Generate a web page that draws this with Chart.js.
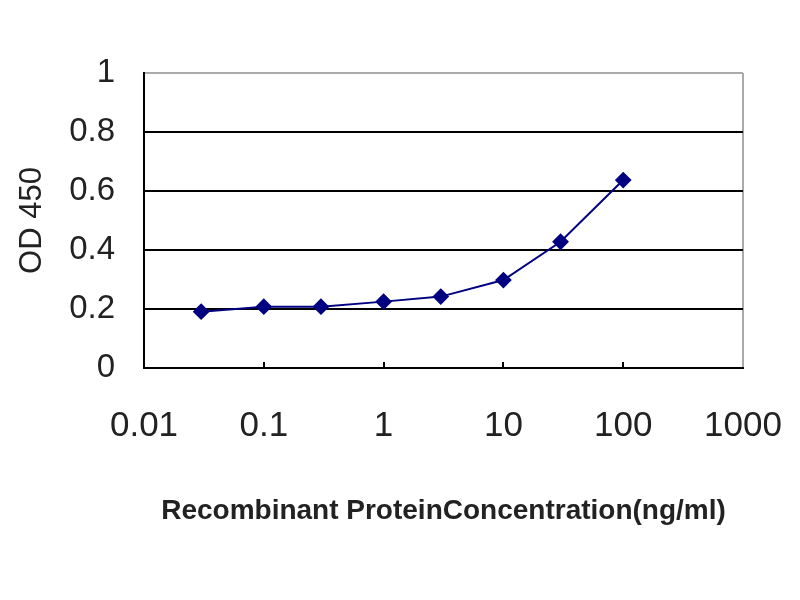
<!DOCTYPE html>
<html>
<head>
<meta charset="utf-8">
<script src="https://cdn.jsdelivr.net/npm/chart.js@4/dist/chart.umd.min.js"></script>
<style>
  html, body { margin: 0; padding: 0; background: #fff; }
  #wrap { width: 800px; height: 600px; }
</style>
</head>
<body>
<div id="wrap"><canvas id="chart-od" width="800" height="600"></canvas></div>
<script>
// Courbe ELISA : DO 450 selon la concentration

const concentrations = [0.03, 0.1, 0.3, 1, 3, 10, 30, 100];
const od450 = [0.191, 0.208, 0.208, 0.225, 0.242, 0.298, 0.428, 0.637];
const xTicks = [0.01, 0.1, 1, 10, 100, 1000];
const yTicks = [0, 0.2, 0.4, 0.6, 0.8, 1];

const navy = '#000080';

// petites graduations vers le haut sur l'axe x
const innerTicks = {
    id: 'innerTicks',
    afterDatasetsDraw(chart) {
        const ctx = chart.ctx;
        const x = chart.scales.x;
        const yBottom = chart.chartArea.bottom;
        ctx.save();
        ctx.strokeStyle = '#000';
        ctx.lineWidth = 2;
        xTicks.slice(1, -1).forEach(v => {
            const px = Math.round(x.getPixelForValue(v));
            ctx.beginPath();
            ctx.moveTo(px, yBottom);
            ctx.lineTo(px, yBottom - 6);
            ctx.stroke();
        });
        ctx.restore();
    }
};

const ctx = document.getElementById('chart-od');

new Chart(ctx, {
    type: 'line',
    data: {
        datasets: [{
            label: 'OD 450',
            data: concentrations.map((c, i) => ({ x: c, y: od450[i] })),
            borderColor: navy,
            backgroundColor: navy,
            borderWidth: 2,
            pointStyle: 'rectRot',
            pointRadius: 7,
            pointHoverRadius: 7,
            fill: false,
            tension: 0
        }]
    },
    options: {
        responsive: false,
        animation: false,
        layout: {
            padding: { left: 14, top: 73, right: 57, bottom: 72 }
        },
        scales: {
            x: {
                type: 'logarithmic',
                min: 0.01,
                max: 1000,
                afterBuildTicks: (scale) => {
                    scale.ticks = xTicks.map(v => ({ value: v }));
                },
                afterFit: (scale) => {
                    scale.height = 160;
                    scale.paddingLeft = 0;
                    scale.paddingRight = 0;
                },
                grid: {
                    drawTicks: false,
                    lineWidth: 2,
                    color: (c) => (c.tick && c.tick.value === 1000) ? '#aaaaaa' : 'rgba(0,0,0,0)'
                },
                border: { color: '#000', width: 2 },
                ticks: {
                    padding: 37,
                    color: '#222',
                    maxRotation: 0,
                    autoSkip: false,
                    font: { family: 'Liberation Sans, Arial, sans-serif', size: 35 },
                    callback: (v) => String(v)
                },
                title: {
                    display: true,
                    text: 'Recombinant ProteinConcentration(ng/ml)',
                    color: '#222',
                    padding: 0,
                    font: { family: 'Liberation Sans, Arial, sans-serif', size: 28, weight: 'bold' }
                }
            },
            y: {
                min: 0,
                max: 1,
                afterBuildTicks: (scale) => {
                    scale.ticks = yTicks.map(v => ({ value: v }));
                },
                afterFit: (scale) => { scale.width = 130; },
                grid: {
                    drawTicks: false,
                    lineWidth: 2,
                    color: (c) => (c.tick && c.tick.value === 1) ? '#aaaaaa' : '#000'
                },
                border: { color: '#000', width: 2 },
                ticks: {
                    padding: 29,
                    color: '#222',
                    font: { family: 'Liberation Sans, Arial, sans-serif', size: 33 },
                    callback: (v) => String(Number(v.toFixed(1)))
                },
                title: {
                    display: true,
                    text: 'OD 450',
                    color: '#222',
                    padding: 0,
                    font: { family: 'Liberation Sans, Arial, sans-serif', size: 31 }
                }
            }
        },
        plugins: {
            legend: { display: false },
            tooltip: { enabled: false }
        }
    },
    plugins: [innerTicks]
});
</script>
</body>
</html>
